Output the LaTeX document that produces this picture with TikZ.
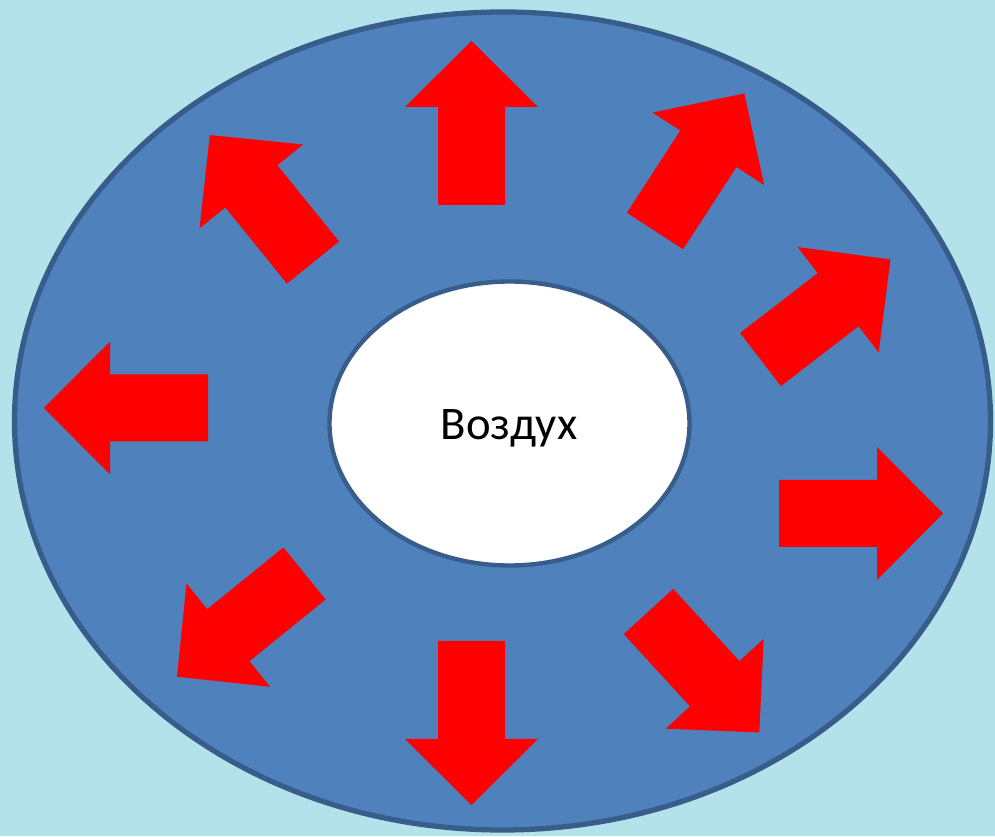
\documentclass[tikz,border=0pt]{standalone}
\usepackage{fontspec}
\setmainfont{Carlito}
\definecolor{water}{RGB}{180,226,234}
\definecolor{ringblue}{RGB}{79,129,189}
\definecolor{ringedge}{RGB}{56,93,138}

\begin{document}
\begin{tikzpicture}[x=0.02cm, y=0.02cm,
		blockarrow/.pic={\fill[red] (0,-33.5) -- (98,-33.5) -- (98,-66.5) -- (164,0)
			-- (98,66.5) -- (98,33.5) -- (0,33.5) -- cycle;}]
		\fill[water] (0,0) rectangle (995,836);
		\useasboundingbox (0,0) rectangle (995,836);
		\filldraw[fill=ringblue, draw=ringedge, line width=3pt] (502.5,415) ellipse (488 and 409);
		\filldraw[fill=white, draw=ringedge, line width=2.5pt] (509.5,412.5) ellipse (180 and 142);
		\node (air) [anchor=base, font=\fontsize{26.6}{30}\selectfont] at (509,396) {Воздух};
		\pic (up)    [rotate=90]    at (471.5,631)   {blockarrow};
		\pic (left)  [rotate=180]   at (208,428)     {blockarrow};
		\pic (right) at (779,322.5)   {blockarrow};
		\pic (down)  [rotate=270]   at (471.5,195)   {blockarrow};
		\pic (upr)   [rotate=57]    at (655,605)     {blockarrow};
		\pic (rup)   [rotate=37.6]  at (760.5,476.5) {blockarrow};
		\pic (upl)   [rotate=129]   at (313,573.5)   {blockarrow};
		\pic (downl) [rotate=219]   at (304.5,262.5) {blockarrow};
		\pic (downr) [rotate=-47.5] at (648.5,224.5) {blockarrow};
		\end{tikzpicture}
\end{document}
